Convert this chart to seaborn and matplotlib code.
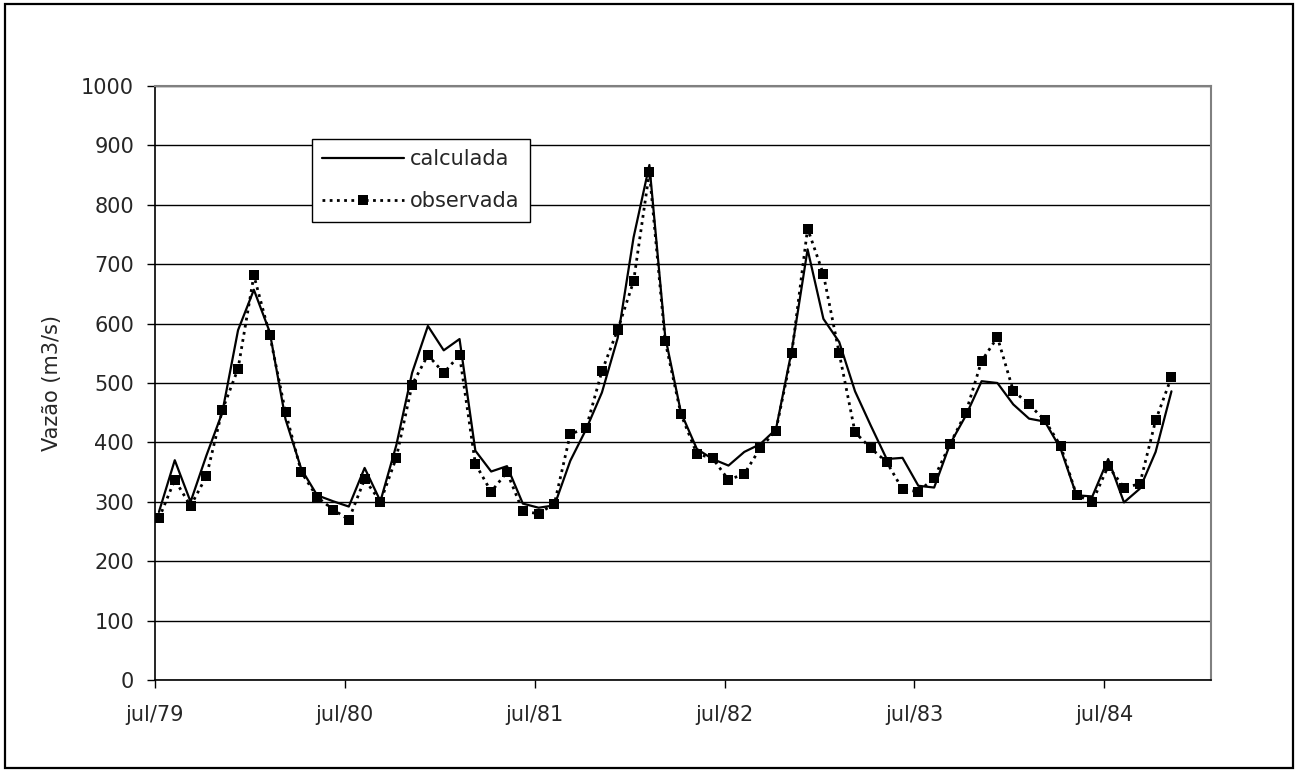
import matplotlib
matplotlib.use("Agg")
import matplotlib.pyplot as plt
import matplotlib.patches as mpatches
import seaborn as sns
import pandas as pd

# ---- data (monthly flows, jul/79 .. nov/84) ----
month_index = list(range(65))
calculada = [283, 370, 300, 378, 450, 589, 657, 586, 439, 355, 311, 301,
             292, 357, 301, 395, 517, 596, 555, 574, 386, 351, 360, 297,
             290, 294, 369, 422, 484, 576, 745, 867, 578, 450, 389, 372,
             361, 384, 397, 422, 555, 725, 608, 569, 486, 428, 372, 374,
             327, 324, 397, 445, 503, 500, 464, 440, 435, 389, 311, 309,
             372, 299, 322, 384, 486]
observada = [272, 337, 293, 343, 454, 524, 681, 581, 451, 350, 308, 287,
             270, 338, 300, 374, 497, 547, 517, 547, 364, 317, 350, 284,
             280, 297, 414, 424, 520, 590, 671, 855, 570, 447, 381, 373,
             337, 347, 390, 420, 550, 760, 683, 550, 417, 390, 367, 321,
             317, 340, 397, 450, 537, 577, 487, 464, 437, 394, 311, 300,
             360, 324, 330, 437, 510]
tick_months = [0, 12, 24, 36, 48, 60]
tick_labels = ["jul/79", "jul/80", "jul/81", "jul/82", "jul/83", "jul/84"]
y_ticks = [0, 100, 200, 300, 400, 500, 600, 700, 800, 900, 1000]

df = pd.DataFrame({"mes": month_index, "calculada": calculada, "observada": observada})

sns.set_style("white")
plt.rcParams["font.family"] = ["DejaVu Sans"]

W, H = 1298, 774
fig = plt.figure(figsize=(W / 100, H / 100), dpi=100)
ax = fig.add_axes([155 / W, 1 - 680 / H, (1211 - 155) / W, (680 - 86) / H])

sns.lineplot(data=df, x="mes", y="calculada", ax=ax, color="black",
             linewidth=1.6, label="calculada", zorder=3)
sns.lineplot(data=df, x="mes", y="observada", ax=ax, color="black",
             linewidth=2.0, linestyle=(0, (1.0, 1.6)), marker="s",
             markersize=7.5, markeredgewidth=0, label="observada", zorder=4)

# month ticks sit at the start of the month, data at mid-week of the month
ax.set_xlim(-0.25, 66.5)
ax.set_ylim(0, 1000)
ax.set_xticks([m - 0.25 for m in tick_months])
ax.set_xticklabels(tick_labels)
ax.set_yticks(y_ticks)
ax.set_yticklabels([str(v) for v in y_ticks])
ax.set_xlabel("")
ax.set_ylabel("Vazão (m3/s)", fontsize=15)
ax.yaxis.set_label_coords(-0.088, 0.5)

ax.grid(axis="y", color="black", linewidth=1.0)
ax.grid(axis="x", visible=False)
ax.set_axisbelow(True)

ax.tick_params(axis="y", direction="out", length=6, width=1, color="black",
               labelsize=15, pad=9, left=True)
ax.tick_params(axis="x", direction="out", length=6, width=1, color="black",
               labelsize=15, pad=12, bottom=True)

for side in ["left", "bottom"]:
    ax.spines[side].set_color("black")
    ax.spines[side].set_linewidth(1.2)
for side in ["top", "right"]:
    ax.spines[side].set_visible(True)
    ax.spines[side].set_color("#808080")
    ax.spines[side].set_linewidth(1.5)

leg = ax.legend(loc="upper left", bbox_to_anchor=(312 / W, 1 - 139 / H),
                bbox_transform=fig.transFigure, borderaxespad=0,
                fontsize=15, frameon=True, fancybox=False, framealpha=1,
                edgecolor="black", handlelength=3.9, handletextpad=0.3,
                labelspacing=1.05, borderpad=0.5, numpoints=1)
leg.get_frame().set_linewidth(1.0)

border = mpatches.Rectangle((5 / W, 1 - 768 / H), (1293 - 5) / W, (768 - 4) / H,
                            transform=fig.transFigure, fill=False,
                            edgecolor="black", linewidth=1.6)
fig.patches.append(border)

fig.savefig("out.png", dpi=100)
